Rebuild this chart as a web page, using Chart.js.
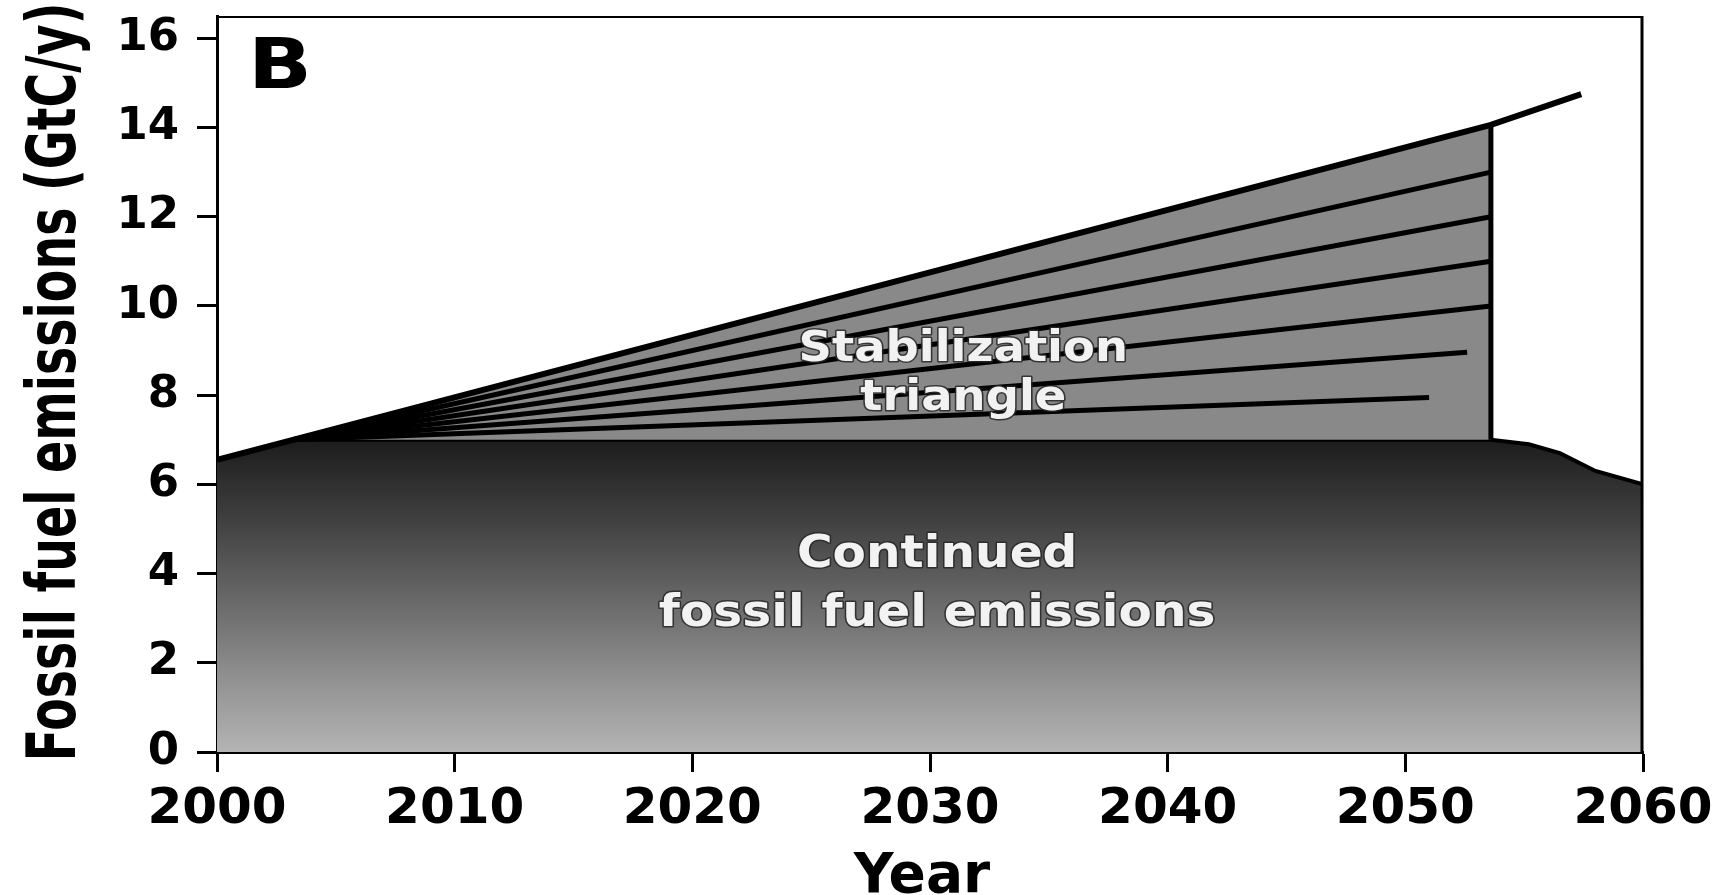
<!DOCTYPE html>
<html>
<head>
<meta charset="utf-8">
<title>Fossil fuel emissions – stabilization triangle</title>
<script src="https://cdn.jsdelivr.net/npm/chart.js@4/dist/chart.umd.min.js"></script>
<style>
  html, body { margin: 0; padding: 0; background: #ffffff; overflow: hidden; }
  #wrap { width: 1727px; height: 895px; }
</style>
</head>
<body>
<div id="wrap"><canvas id="chart" width="1727" height="895"></canvas></div>
<script>
// ---- axis ticks ----
const xTicks = [2000, 2010, 2020, 2030, 2040, 2050, 2060];
const yTicks = [0, 2, 4, 6, 8, 10, 12, 14, 16];

// ---- continued fossil fuel emissions (GtC/y): flat path, then decline ----
const continuedYears  = [2000, 2003.2, 2053.6, 2055.2, 2056.5, 2058, 2060];
const continuedValues = [6.55, 7.0,    7.0,    6.9,    6.7,    6.3,  6.0];

// ---- business-as-usual path (upper edge of the triangle) ----
const bauYears  = [2000, 2053.6, 2057.4];
const bauValues = [6.55, 14.06,  14.75];

// ---- stabilization triangle (filled down to the flat path) ----
const triangleYears  = [2003.2, 2053.6];
const triangleValues = [7.0,    14.06];
const triangleBase   = 7.0;

// ---- wedge dividers: all start at the apex ----
const wedgeStartYear  = 2003.2;
const wedgeStartValue = 7.0;
const wedgeEndYears   = [2051, 2052.6, 2053.6, 2053.6, 2053.6, 2053.6];
const wedgeEndValues  = [7.95, 8.96,   10,     11,     12,     13];

// ---- right-hand edge of the triangle ----
const edgeYears  = [2053.6, 2053.6];
const edgeValues = [7.0, 14.06];

const FONT = "'DejaVu Sans', 'Liberation Sans', sans-serif";

const toPoints = (xs, ys) => xs.map((x, i) => ({ x: x, y: ys[i] }));

function continuedGradient(context) {
  const chart = context.chart;
  if (!chart.chartArea) return '#666666';
  const y = chart.scales.y;
  const g = chart.ctx.createLinearGradient(0, y.getPixelForValue(7), 0, y.getPixelForValue(0));
  g.addColorStop(0.0, '#1c1c1c');
  g.addColorStop(0.25, '#3f3f3f');
  g.addColorStop(0.55, '#6e6e6e');
  g.addColorStop(0.8, '#969696');
  g.addColorStop(1.0, '#b4b4b4');
  return g;
}

const datasets = [];

// filled areas (drawn first)
datasets.push({
  label: 'Continued fossil fuel emissions',
  data: toPoints(continuedYears, continuedValues),
  showLine: true,
  fill: 'origin',
  backgroundColor: continuedGradient,
  borderColor: '#000000',
  borderWidth: 4,
  pointRadius: 0,
  tension: 0,
  order: 10
});
datasets.push({
  label: 'Stabilization triangle',
  data: toPoints(triangleYears, triangleValues),
  showLine: true,
  fill: { value: triangleBase },
  backgroundColor: '#898989',
  borderColor: 'rgba(0,0,0,0)',
  borderWidth: 0,
  pointRadius: 0,
  order: 9
});

// wedge divider lines
wedgeEndYears.forEach((yr, i) => {
  datasets.push({
    label: 'wedge ' + (i + 1),
    data: [{ x: wedgeStartYear, y: wedgeStartValue }, { x: yr, y: wedgeEndValues[i] }],
    showLine: true,
    fill: false,
    borderColor: '#000000',
    borderWidth: 5,
    pointRadius: 0,
    order: 5
  });
});

// business-as-usual line and the triangle's right edge
datasets.push({
  label: 'Business as usual',
  data: toPoints(bauYears, bauValues),
  showLine: true,
  fill: false,
  borderColor: '#000000',
  borderWidth: 6,
  borderCapStyle: 'butt',
  pointRadius: 0,
  order: 2
});
datasets.push({
  label: 'edge',
  data: toPoints(edgeYears, edgeValues),
  showLine: true,
  fill: false,
  borderColor: '#000000',
  borderWidth: 5,
  pointRadius: 0,
  order: 1
});

// text annotations, anchored in data coordinates
const notes = [
  { lines: ['Stabilization', 'triangle'], x: 2031.4, y: [8.77, 7.67], size: 43 },
  { lines: ['Continued', 'fossil fuel emissions'], x: 2030.3, y: [4.15, 2.83], size: 45 }
];

const decorations = {
  id: 'decorations',
  afterDatasetsDraw(chart) {
    const ctx = chart.ctx;
    const a = chart.chartArea;
    const xs = chart.scales.x, ys = chart.scales.y;

    // frame: top and right border
    ctx.save();
    ctx.strokeStyle = '#000000';
    ctx.lineWidth = 2;
    ctx.beginPath();
    ctx.moveTo(a.left, a.top + 1);
    ctx.lineTo(a.right, a.top + 1);
    ctx.stroke();
    ctx.lineWidth = 3;
    ctx.beginPath();
    ctx.moveTo(a.right - 1, a.top);
    ctx.lineTo(a.right - 1, a.bottom);
    ctx.stroke();
    ctx.restore();

    // in-plot labels
    notes.forEach(n => {
      const cx = xs.getPixelForValue(n.x);
      n.lines.forEach((t, i) => {
        const by = ys.getPixelForValue(n.y[i]);
        ctx.save();
        ctx.translate(cx, by);
        ctx.scale(1.08, 1);
        ctx.font = 'bold ' + n.size + 'px ' + FONT;
        ctx.textAlign = 'center';
        ctx.textBaseline = 'alphabetic';
        ctx.lineJoin = 'round';
        ctx.lineWidth = 3;
        ctx.strokeStyle = 'rgba(40,40,40,0.85)';
        ctx.strokeText(t, 0, 0);
        ctx.fillStyle = '#f2f2f2';
        ctx.fillText(t, 0, 0);
        ctx.restore();
      });
    });

    // panel letter
    ctx.save();
    ctx.translate(a.left + 31, a.top + 72);
    ctx.scale(1.2, 1);
    ctx.font = 'bold 70px ' + FONT;
    ctx.textAlign = 'left';
    ctx.textBaseline = 'alphabetic';
    ctx.fillStyle = '#000000';
    ctx.fillText('B', 0, 0);
    ctx.restore();

    // y-axis title
    ctx.save();
    ctx.translate(75, (a.top + a.bottom) / 2 - 2);
    ctx.rotate(-Math.PI / 2);
    ctx.scale(1, 1.42);
    ctx.font = 'bold 47.5px ' + FONT;
    ctx.textAlign = 'center';
    ctx.textBaseline = 'alphabetic';
    ctx.fillStyle = '#000000';
    ctx.fillText('Fossil fuel emissions (GtC/y)', 0, 0);
    ctx.restore();

    // x-axis title
    ctx.save();
    ctx.font = 'bold 55px ' + FONT;
    ctx.textAlign = 'center';
    ctx.textBaseline = 'alphabetic';
    ctx.fillStyle = '#000000';
    ctx.fillText('Year', (a.left + a.right) / 2 - 8, 892);
    ctx.restore();
  }
};

new Chart(document.getElementById('chart'), {
  type: 'scatter',
  data: { datasets: datasets },
  options: {
    responsive: false,
    animation: false,
    events: [],
    layout: { padding: { top: 16, right: 84, left: 0, bottom: 0 } },
    plugins: {
      legend: { display: false },
      tooltip: { enabled: false },
      title: { display: false }
    },
    scales: {
      x: {
        type: 'linear',
        min: 2000,
        max: 2060,
        afterBuildTicks: s => { s.ticks = xTicks.map(v => ({ value: v })); },
        afterFit: s => { s.height = 143; s.paddingLeft = 0; s.paddingRight = 0; },
        ticks: {
          color: '#000000',
          font: { family: FONT, size: 50, weight: 'bold' },
          padding: 8,
          maxRotation: 0,
          autoSkip: false,
          callback: v => String(v)
        },
        grid: { drawOnChartArea: false, drawTicks: true, tickLength: 20, tickWidth: 3, tickColor: '#000000' },
        border: { display: true, color: '#000000', width: 3 }
      },
      y: {
        type: 'linear',
        min: 0,
        max: 16.5,
        afterBuildTicks: s => { s.ticks = yTicks.map(v => ({ value: v })); },
        afterFit: s => { s.width = 217; s.paddingTop = 0; s.paddingBottom = 0; },
        ticks: {
          color: '#000000',
          font: { family: FONT, size: 45, weight: 'bold' },
          padding: 18,
          autoSkip: false,
          callback: v => String(v)
        },
        grid: { drawOnChartArea: false, drawTicks: true, tickLength: 20, tickWidth: 3, tickColor: '#000000' },
        border: { display: true, color: '#000000', width: 3 }
      }
    }
  },
  plugins: [decorations]
});
</script>
</body>
</html>
